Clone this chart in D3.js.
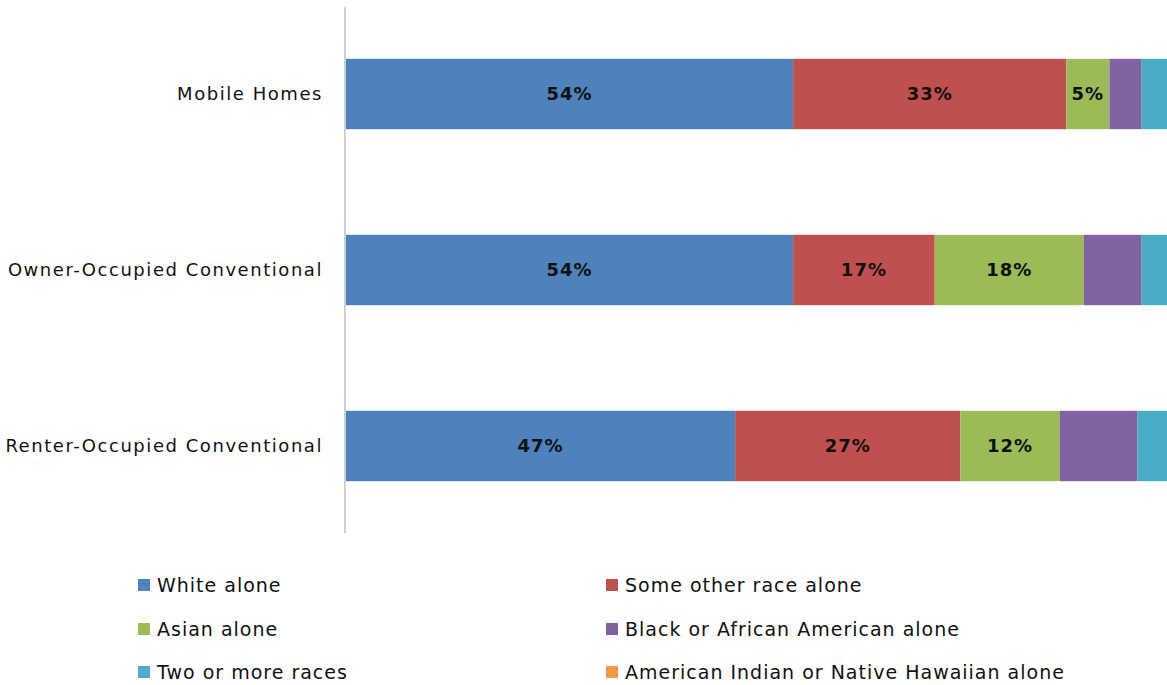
<!DOCTYPE html>
<html><head><meta charset="utf-8">
<script src="https://cdn.jsdelivr.net/npm/d3@7"></script>
<style>body{margin:0;background:#fff}svg{display:block}text{font-family:"DejaVu Sans",sans-serif}</style>
</head><body><svg id="c" width="1167" height="685"></svg>
<script>
const categories = ["Mobile Homes", "Owner-Occupied Conventional", "Renter-Occupied Conventional"];
const seriesNames = ["White alone", "Some other race alone", "Asian alone", "Black or African American alone", "Two or more races", "American Indian or Native Hawaiian alone"];
const colors = ["#4F81BD", "#C0504D", "#9BBB59", "#8064A2", "#4BACC6", "#F79646"];
const white = [54, 54, 47];
const someOther = [33, 17.1, 27.2];
const asian = [5.2, 18, 12];
const black = [3.9, 7, 9.4];
const twoMore = [3.3, 3.4, 3.8];
const aian = [0.6, 0.5, 0.6];
const labeledSeries = [0, 1, 2];

const seriesVals = [white, someOther, asian, black, twoMore, aian];
const data = categories.map((c, i) => {
  const o = {cat: c};
  seriesNames.forEach((s, j) => o[s] = seriesVals[j][i]);
  return o;
});
const stack = d3.stack().keys(seriesNames)(data);

const svg = d3.select("#c");
const x = d3.scaleLinear().domain([0, 100]).range([346, 1174]);
const y = d3.scaleBand().domain(categories).range([6, 534]).paddingInner(0.6).paddingOuter(0.3);

const g = svg.append("g");
stack.forEach((layer, j) => {
  g.selectAll(null).data(layer).enter().append("rect")
    .attr("x", d => x(d[0])).attr("width", d => x(d[1]) - x(d[0]))
    .attr("y", d => y(d.data.cat)).attr("height", y.bandwidth())
    .attr("fill", colors[j]);
  if (labeledSeries.includes(j)) {
    g.selectAll(null).data(layer).enter().append("text")
      .attr("x", d => (x(d[0]) + x(d[1])) / 2)
      .attr("y", d => y(d.data.cat) + y.bandwidth() / 2)
      .attr("dy", "0.36em").attr("text-anchor", "middle")
      .attr("font-size", 18).attr("font-weight", "bold").attr("fill", "#111")
      .attr("letter-spacing", 1)
      .text(d => Math.round(d[1] - d[0]) + "%");
  }
});

// axis
const yAxis = d3.axisLeft(y).tickSize(0).tickPadding(22);
const ag = svg.append("g").attr("transform", "translate(345,0)").call(yAxis);
ag.select(".domain").attr("stroke", "#d0d0d0").attr("stroke-width", 2).attr("d", "M0,7V533");
ag.selectAll("text").attr("font-size", 18).attr("fill", "#111").attr("letter-spacing", 1.55)
  .style("font-family", '"DejaVu Sans",sans-serif');

// legend
const legendPos = [[138, 585], [606, 585], [138, 629], [606, 629], [138, 672], [606, 672]];
const lg = svg.append("g");
seriesNames.forEach((s, j) => {
  const [lx, ly] = legendPos[j];
  lg.append("rect").attr("x", lx).attr("y", ly - 6).attr("width", 12).attr("height", 12).attr("fill", colors[j]);
  lg.append("text").attr("x", lx + 19).attr("y", ly).attr("dy", "0.36em")
    .attr("font-size", 19).attr("letter-spacing", 1).attr("fill", "#111").text(s);
});
</script></body></html>
